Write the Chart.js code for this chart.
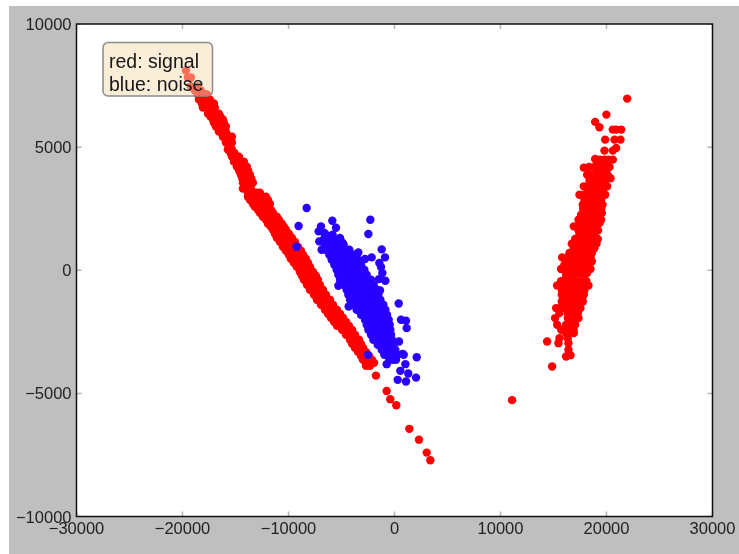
<!DOCTYPE html>
<html>
<head>
<meta charset="utf-8">
<title>signal vs noise</title>
<script src="https://cdn.jsdelivr.net/npm/chart.js@4/dist/chart.umd.min.js"></script>
<style>
    html, body { margin: 0; padding: 0; background: #fff; }
    #figure { position: absolute; left: 9px; top: 6px; width: 730px; height: 548px; background: #bfbfbf; }
    #wrap { position: absolute; left: 0; top: 0; width: 739px; height: 554px; }
    #scatter { filter: blur(0.35px); }
</style>
</head>
<body>
<div id="figure"></div>
<div id="wrap"><canvas id="scatter" width="739" height="554"></canvas></div>
<script>
// ========================================
// DATA ([x, y])
// ========================================
const xTickValues = [-30000, -20000, -10000, 0, 10000, 20000, 30000];
const yTickValues = [-10000, -5000, 0, 5000, 10000];
const boxLines = ['red: signal', 'blue: noise'];

const signalUpperBand = [
    [-19680,8110],[-19490,7825],[-19210,7825],[-19210,7460],[-18550,7460],[-18830,7300],[-18270,7300],
    [-18550,7135],[-17980,7135],[-17700,7135],[-18450,6930],[-17890,6930],[-17410,6930],
    [-18170,6770],[-17510,6770],[-17040,6770],[-18080,6605],[-17510,6605],[-16950,6605],
    [-17600,6360],[-17040,6360],[-16570,6360],[-17130,6120],[-16660,6120],[-16190,6120],
    [-17040,5990],[-16570,5990],[-16100,5990],[-16850,5835],[-16380,5835],[-15910,5835],
    [-16570,5630],[-15910,5630],[-16190,5425],[-15720,5425],[-15340,5425],[-15910,5185],[-15340,5185],
    [-15720,4900],[-15340,4900],[-15340,4615],[-14960,4615],[-14680,4615],[-15150,4410],[-14680,4410],[-14210,4410],
    [-14870,4205],[-14400,4205],[-13930,4205],[-14490,3880],[-14020,3880],[-13640,3880],
    [-14300,3555],[-13830,3555],[-13360,3555],[-14300,3315],[-13550,3315],
    [-18265,7135],[-17840,7135],[-18170,6930],[-17650,6930],[-17840,6770],[-17275,6770],[-17795,6605],[-17230,6605],
    [-17320,6360],[-16805,6360],[-16895,6120],[-16425,6120],[-16805,5990],[-16335,5990],[-16615,5835],[-16145,5835],
    [-16240,5630],[-15955,5425],[-15530,5425],[-15625,5185],[-15530,4900],[-15150,4615],[-14820,4615],
    [-14915,4410],[-14445,4410],[-14635,4205],[-14165,4205],[-14255,3880],[-13830,3880],[-14065,3555],[-13595,3555],
    [-13925,3315],[-17360,6240],[-16900,6240],[-16430,6240],[-16500,5730],[-16000,5730],[-15900,5300],[-15500,5300],
    [-15600,5040],[-15450,4760],[-15100,4760],[-14650,4040],[-14200,4040],[-13800,4040],[-14350,3720],[-13900,3720],[-13500,3720]
];

const signalLowerBand = [
    [-13830,3150],[-13270,3150],[-12700,3150],[-13830,2985],[-13170,2985],[-12510,2985],[-12130,2985],
    [-13640,2865],[-12980,2865],[-12320,2865],[-11950,2865],[-13360,2700],[-12700,2700],[-12040,2700],[-11760,2700],
    [-13170,2580],[-12510,2580],[-11850,2580],[-12890,2460],[-12230,2460],[-11660,2460],
    [-12700,2335],[-12040,2335],[-11470,2335],[-12420,2175],[-11760,2175],[-11100,2175],
    [-12130,2050],[-11470,2050],[-10910,2050],[-11940,1890],[-11280,1890],[-10630,1890],
    [-11660,1770],[-11100,1770],[-10440,1770],[-11470,1645],[-10910,1645],[-10250,1645],
    [-11280,1485],[-10630,1485],[-9970,1485],[-11100,1320],[-10440,1320],[-9690,1320],
    [-10820,1160],[-10060,1160],[-9400,1160],[-10530,955],[-9780,955],[-9120,955],
    [-10250,795],[-9590,795],[-8830,795],[-9970,630],[-9310,630],[-8640,630],
    [-9780,470],[-9020,470],[-8360,470],[-9500,305],[-8830,305],[-8170,305],
    [-9220,140],[-8550,140],[-7980,140],[-8930,-60],[-8260,-60],[-7700,-60],
    [-8740,-225],[-8080,-225],[-7420,-225],[-8550,-385],[-7890,-385],[-7230,-385],
    [-8260,-590],[-7600,-590],[-7040,-590],[-7980,-790],[-7320,-790],[-6750,-790],
    [-7600,-995],[-7040,-995],[-6470,-995],[-7320,-1200],[-6750,-1200],[-6090,-1200],
    [-6940,-1400],[-6370,-1400],[-5810,-1400],[-6560,-1605],[-6000,-1605],[-5430,-1605],
    [-6280,-1770],[-5710,-1770],[-5140,-1770],[-6000,-1930],[-5430,-1930],[-4860,-1930],
    [-5710,-2095],[-5140,-2095],[-4580,-2095],[-5430,-2255],[-4860,-2255],[-4300,-2255],
    [-4950,-2420],[-4490,-2420],[-4000,-2420],[-4580,-2620],[-4110,-2620],[-3730,-2620],
    [-4200,-2825],[-3730,-2825],[-3350,-2825],[-4000,-2990],[-3540,-2990],[-3160,-2990],
    [-3730,-3150],[-3350,-3150],[-2970,-3150],[-3440,-3315],[-3060,-3315],[-2690,-3315],
    [-3160,-3480],[-2780,-3480],[-2400,-3480],[-2970,-3640],[-2500,-3640],[-2120,-3640],
    [-2690,-3760],[-2310,-3760],[-1930,-3760],[-2690,-3880],[-2310,-3880]
];

const signalLowerCore = [
    [-13550,3150],[-12985,3150],[-13500,2985],[-12840,2985],[-13310,2865],[-12650,2865],[-13030,2700],[-12370,2700],
    [-12840,2580],[-12180,2580],[-12560,2460],[-11945,2460],[-12370,2335],[-11755,2335],[-12090,2175],[-11430,2175],
    [-11800,2050],[-11190,2050],[-11610,1890],[-10955,1890],[-11380,1770],[-10770,1770],[-11190,1645],[-10580,1645],
    [-10955,1485],[-10300,1485],[-10770,1320],[-10065,1320],[-10440,1160],[-9730,1160],[-10155,955],[-9450,955],
    [-9920,795],[-9210,795],[-9640,630],[-8975,630],[-9400,470],[-8690,470],[-9165,305],[-8500,305],
    [-8885,140],[-8265,140],[-8595,-60],[-7980,-60],[-8410,-225],[-7750,-225],[-8220,-385],[-7560,-385],
    [-7930,-590],[-7320,-590],[-7650,-790],[-7035,-790],[-7320,-995],[-6755,-995],[-7035,-1200],[-6420,-1200],
    [-6655,-1400],[-6090,-1400],[-6280,-1605],[-5715,-1605],[-5995,-1770],[-5425,-1770],[-5715,-1930],[-5145,-1930],
    [-5425,-2095],[-4860,-2095],[-5145,-2255],[-4580,-2255],[-4720,-2420],[-4245,-2420],[-4345,-2620],[-3920,-2620],
    [-3965,-2825],[-3540,-2825],[-3770,-2990],[-3350,-2990],[-3540,-3150],[-3160,-3150],[-3250,-3315],[-2875,-3315],
    [-2970,-3480],[-2590,-3480],[-2735,-3640],[-2310,-3640]
];

const signalStragglers = [
    [-1750,-4280],[-740,-4900],[-400,-5235],[170,-5480],[1400,-6440],[2310,-6880],[3040,-7405],[3380,-7715],
    [11090,-5275],[14400,-2895],[14870,-3910],[21950,6970],[19990,6320],[18930,6025],[19330,5805]
];

const signalRightBand = [
    [20596,5712],[20911,5712],[21383,5712],[19873,5305],[20754,5305],[21320,5305],
    [20911,4966],[19810,4858],[20596,4858],[18929,4519],[19810,4492],[20596,4492],
    [17859,4167],[18866,4194],[19495,4194],[20282,4194],[18173,3882],[19023,3882],[19810,3882],[20376,3733],
    [18394,3638],[19180,3638],[19873,3638],[17859,3408],[18708,3408],[19495,3408],[20061,3408],
    [18299,3245],[19023,3245],[19652,3245],[17450,3069],[18299,3069],[19180,3069],[19873,3069],
    [17922,2866],[18708,2866],[19495,2866],[17764,2663],[18551,2663],[19338,2663],
    [18173,2487],[18929,2487],[19495,2487],[17607,2256],[18394,2324],[19023,2324],[19558,2324],
    [17355,2053],[18079,2053],[18866,2053],[19495,2053],[19338,1917],[16915,1782],[17764,1782],[18551,1782],
    [17355,1620],[18173,1620],[19023,1620],[17450,1443],[18173,1443],[18866,1443],
    [17040,1267],[17764,1267],[18551,1267],[19180,1267],[16726,1077],[17450,1077],[18236,1077],[19055,1077],
    [16915,888],[17764,888],[18551,888],[16505,698],[17292,698],[17984,698],[18614,698],
    [15813,522],[16820,522],[17607,522],[18299,522],[16505,359],[17292,359],[18079,359],[18614,359],
    [16033,224],[16915,224],[17607,224],[18299,224],[15719,48],[16505,48],[17229,48],[17922,48],[18488,48],
    [16191,-115],[16915,-115],[17607,-115],[18173,-115],[15719,-440],[16505,-440],[17229,-440],[17922,-440],
    [16191,-250],[16915,-250],[15341,-616],[16033,-616],[16820,-616],[17607,-616],[18299,-616],
    [15781,-806],[16505,-806],[17229,-806],[17922,-806],[15781,-996],[16505,-996],[17229,-996],[17859,-996],
    [16191,-1131],[16915,-1131],[17607,-1131],[15781,-1267],[16505,-1267],[17229,-1267],[17764,-1267],
    [15247,-1538],[16033,-1538],[16820,-1538],[17544,-1538],[15561,-1741],[16348,-1741],[17040,-1741],
    [15152,-1944],[16348,-1944],[16915,-1944],[17355,-1944],[15341,-2215],[16191,-2215],[17040,-2215],
    [15719,-2419],[16505,-2419],[16191,-2554],[16915,-2554],[15561,-2757],[16348,-2757],
    [15467,-2961],[16411,-2961],[16411,-3232],[16191,-3503],[16600,-3448]
];

const signalRightCore = [
    [20200,4492],[19370,4492],[19180,4194],[19890,4194],[18360,4194],[18600,3882],[19420,3882],[20100,3882],
    [18790,3638],[19530,3638],[18280,3408],[19100,3408],[19780,3408],[18660,3245],[19340,3245],
    [17870,3069],[18740,3069],[19530,3069],[18310,2866],[19100,2866],[18160,2663],[18940,2663],[19620,2663],
    [17800,2487],[18550,2487],[19210,2487],[18000,2324],[18710,2324],[19290,2324],[17720,2053],[18470,2053],[19180,2053],
    [17340,1782],[18160,1782],[18950,1782],[17760,1620],[18600,1620],[19200,1620],[17810,1443],[18520,1443],
    [17400,1267],[18160,1267],[18870,1267],[17090,1077],[17840,1077],[18650,1077],[17340,888],[18160,888],[18850,888],
    [16900,698],[17640,698],[18300,698],[16300,522],[17210,522],[17950,522],[18500,522],[16900,359],[17690,359],[18350,359],
    [16470,224],[17260,224],[17950,224],[16110,48],[16870,48],[17580,48],[18200,48],[16550,-115],[17260,-115],[17890,-115],
    [16110,-440],[16870,-440],[17580,-440],[18100,-440],[15690,-616],[16430,-616],[17210,-616],[17950,-616],
    [16140,-806],[16870,-806],[17570,-806],[16140,-996],[16870,-996],[17540,-996],[16550,-1131],[17260,-1131],[17700,-1131],
    [16140,-1267],[16870,-1267],[17500,-1267],[15640,-1538],[16430,-1538],[17180,-1538],[16700,-1741],[17300,-1741],
    [16600,-2215],[16100,-2419],[16900,-2419]
];

const noiseCloud = [
    [-6465,1443],[-5836,1443],[-6717,1240],[-6150,1240],[-5521,1240],[-5111,1240],
    [-6559,1037],[-5993,1037],[-5363,1037],[-4797,1037],[-6496,833],[-5867,833],[-5237,833],[-4545,833],
    [-6150,630],[-5521,630],[-4891,630],[-4262,630],[-3790,630],[-5930,427],[-5300,427],[-4671,427],[-4042,427],[-3412,427],
    [-5678,224],[-5049,224],[-4419,224],[-3790,224],[-3160,224],[-5458,20],[-4829,20],[-4199,20],[-3570,20],[-2846,20],
    [-5300,-183],[-4671,-183],[-4042,-183],[-3412,-183],[-2625,-183],[-5143,-386],[-4419,-386],[-3727,-386],[-3003,-386],[-2217,-386],
    [-4829,-589],[-4199,-589],[-3475,-589],[-2783,-589],[-1965,-589],[-4514,-793],[-3884,-793],[-3160,-793],[-2374,-793],[-1650,-793],
    [-4356,-996],[-3633,-996],[-2909,-996],[-2153,-996],[-1524,-996],[-4199,-1199],[-3475,-1199],[-2688,-1199],[-1965,-1199],[-1335,-1199],
    [-3853,-1402],[-3160,-1402],[-2374,-1402],[-1650,-1402],[-1052,-1402],[-3570,-1606],[-2846,-1606],[-2153,-1606],[-1430,-1606],[-863,-1606],
    [-3160,-1809],[-2531,-1809],[-1839,-1809],[-1209,-1809],[-706,-1809],[-2783,-2012],[-2153,-2012],[-1524,-2012],[-958,-2012],[-548,-2012],
    [-2625,-2215],[-1965,-2215],[-1272,-2215],[-706,-2215],[-454,-2215],[-2468,-2419],[-1839,-2419],[-1115,-2419],[-391,-2419],
    [-2217,-2622],[-1587,-2622],[-958,-2622],[-328,-2622],[-1996,-2825],[-1335,-2825],[-737,-2825],[-234,-2825],
    [-1587,-3028],[-958,-3028],[-391,-3028],[-76,-3028],[-1209,-3232],[-580,-3232],[81,-3232],
    [-958,-3435],[-328,-3435],[301,-3435],[-485,-3638],[144,-3638]
];

const noiseCore = [
    [-5830,1240],[-5300,1240],[-6270,1037],[-5680,1037],[-5080,1037],[-6180,833],[-5550,833],[-4890,833],
    [-5830,630],[-5200,630],[-4570,630],[-4020,630],[-5610,427],[-4980,427],[-4350,427],[-3720,427],
    [-5360,224],[-4730,224],[-4100,224],[-3470,224],[-5140,20],[-4510,20],[-3880,20],[-3200,20],
    [-4980,-183],[-4350,-183],[-3720,-183],[-3000,-183],[-4780,-386],[-4070,-386],[-3360,-386],[-2610,-386],
    [-4510,-589],[-3830,-589],[-3130,-589],[-2370,-589],[-4200,-793],[-3520,-793],[-2770,-793],[-2010,-793],
    [-3990,-996],[-3270,-996],[-2530,-996],[-1840,-996],[-3830,-1199],[-3080,-1199],[-2330,-1199],[-1650,-1199],
    [-3500,-1402],[-2770,-1402],[-2010,-1402],[-1350,-1402],[-3200,-1606],[-2500,-1606],[-1790,-1606],[-1150,-1606],
    [-2850,-1809],[-2180,-1809],[-1520,-1809],[-950,-1809],[-2470,-2012],[-1840,-2012],[-1240,-2012],[-750,-2012],
    [-2300,-2215],[-1620,-2215],[-990,-2215],[-580,-2215],[-2150,-2419],[-1480,-2419],[-750,-2419],
    [-1900,-2622],[-1270,-2622],[-640,-2622],[-1660,-2825],[-1030,-2825],[-480,-2825],
    [-1270,-3028],[-670,-3028],[-230,-3028],[-890,-3232],[-250,-3232],[-640,-3435],[-10,-3435],[-170,-3638]
];

const noiseStragglers = [
    [-8290,2527],[-9046,1796],[-9234,955],[-5867,2012],[-2280,2053],[-2468,1470],[-5521,1728],[-6937,1782],
    [-7157,1579],[-6622,1511],[-7094,1172],[-5143,1308],[-4891,1105],[-6874,833],[-4262,833],[-3412,725],
    [-2783,454],[-2153,522],[-1209,847],[-895,522],[-1430,292],[-1272,129],[-1146,-115],[-1461,-359],[-863,-427],
    [-5300,-630],[-1367,-820],[396,-1348],[-4325,-1470],[616,-2012],[1088,-2053],[1150,-2351],[427,-2893],
    [2095,-3530],[773,-3394],[-2500,-3435],[-737,-3814],[1025,-3814],[550,-4085],[1300,-4195],[2030,-4360],
    [300,-4450],[1085,-4520],[870,-3435]
];

const toPoints = pairs => pairs.map(p => ({ x: p[0], y: p[1] }));

// ========================================
// FRAME, INWARD TICKS, TEXT BOX
// ========================================
const framePlugin = {
    id: 'frame',
    beforeDatasetsDraw(chart) {
        const { ctx, chartArea: a } = chart;
        ctx.save();
        ctx.fillStyle = '#fff';
        ctx.fillRect(a.left, a.top, a.right - a.left, a.bottom - a.top);
        ctx.restore();
    },
    afterDatasetsDraw(chart) {
        const { ctx, chartArea: a, scales } = chart;
        ctx.save();

        // Little grey ticks pointing into the axes, on all four sides
        ctx.strokeStyle = '#b4b4b4';
        ctx.lineWidth = 1.5;
        ctx.beginPath();
        xTickValues.forEach(v => {
            const px = scales.x.getPixelForValue(v);
            ctx.moveTo(px, a.top); ctx.lineTo(px, a.top + 5);
            ctx.moveTo(px, a.bottom); ctx.lineTo(px, a.bottom - 5);
        });
        yTickValues.forEach(v => {
            const py = scales.y.getPixelForValue(v);
            ctx.moveTo(a.left, py); ctx.lineTo(a.left + 5, py);
            ctx.moveTo(a.right, py); ctx.lineTo(a.right - 5, py);
        });
        ctx.stroke();

        ctx.strokeStyle = '#111';
        ctx.lineWidth = 1.5;
        ctx.strokeRect(a.left, a.top, a.right - a.left, a.bottom - a.top);

        // Text box sits over the points, half transparent
        ctx.beginPath();
        ctx.roundRect(103, 42.5, 109.5, 53.5, 5);
        ctx.fillStyle = 'rgba(245, 222, 179, 0.5)';
        ctx.fill();
        ctx.strokeStyle = '#8c8c8c';
        ctx.lineWidth = 1.5;
        ctx.stroke();

        ctx.fillStyle = '#161616';
        ctx.font = '19.5px "Liberation Sans", sans-serif';
        ctx.textBaseline = 'alphabetic';
        ctx.textAlign = 'left';
        boxLines.forEach((line, i) => ctx.fillText(line, 109, 67.5 + i * 23));
        ctx.restore();
    }
};

// ========================================
// CHART
// ========================================
const axisFont = { family: '"Liberation Sans", sans-serif', size: 16.5 };
const minusLabel = value => String(value).replace('-', '\u2212');

function initChart() {
    const ctx = document.getElementById('scatter').getContext('2d');

    new Chart(ctx, {
        type: 'scatter',
        plugins: [framePlugin],
        data: {
            datasets: [
                {
                    label: 'signal',
                    data: toPoints(signalUpperBand.concat(signalLowerBand, signalLowerCore, signalRightBand, signalRightCore, signalStragglers)),
                    backgroundColor: '#ff0000',
                    borderWidth: 0,
                    pointRadius: 4.2,
                    order: 2
                },
                {
                    label: 'noise',
                    data: toPoints(noiseCloud.concat(noiseCore, noiseStragglers)),
                    backgroundColor: '#2800ff',
                    borderWidth: 0,
                    pointRadius: 4.2,
                    order: 1
                }
            ]
        },
        options: {
            responsive: false,
            animation: false,
            layout: { padding: { top: 24, right: 26.5, bottom: 0, left: 0 } },
            plugins: { legend: { display: false }, tooltip: { enabled: false } },
            scales: {
                x: {
                    type: 'linear',
                    min: -30000,
                    max: 30000,
                    grid: { display: false, drawTicks: false },
                    border: { display: false },
                    afterBuildTicks: scale => { scale.ticks = xTickValues.map(value => ({ value })); },
                    afterFit: scale => { scale.height = 37.5; scale.paddingLeft = 0; scale.paddingRight = 0; },
                    ticks: {
                        color: '#222',
                        font: axisFont,
                        padding: 3,
                        maxRotation: 0,
                        autoSkip: false,
                        callback: minusLabel
                    }
                },
                y: {
                    type: 'linear',
                    min: -10000,
                    max: 10000,
                    grid: { display: false, drawTicks: false },
                    border: { display: false },
                    afterBuildTicks: scale => { scale.ticks = yTickValues.map(value => ({ value })); },
                    afterFit: scale => { scale.width = 76.5; scale.paddingTop = 0; scale.paddingBottom = 0; },
                    ticks: {
                        color: '#222',
                        font: axisFont,
                        padding: 5,
                        labelOffset: 1.5,
                        autoSkip: false,
                        callback: minusLabel
                    }
                }
            }
        }
    });
}

document.addEventListener('DOMContentLoaded', initChart);
</script>
</body>
</html>
